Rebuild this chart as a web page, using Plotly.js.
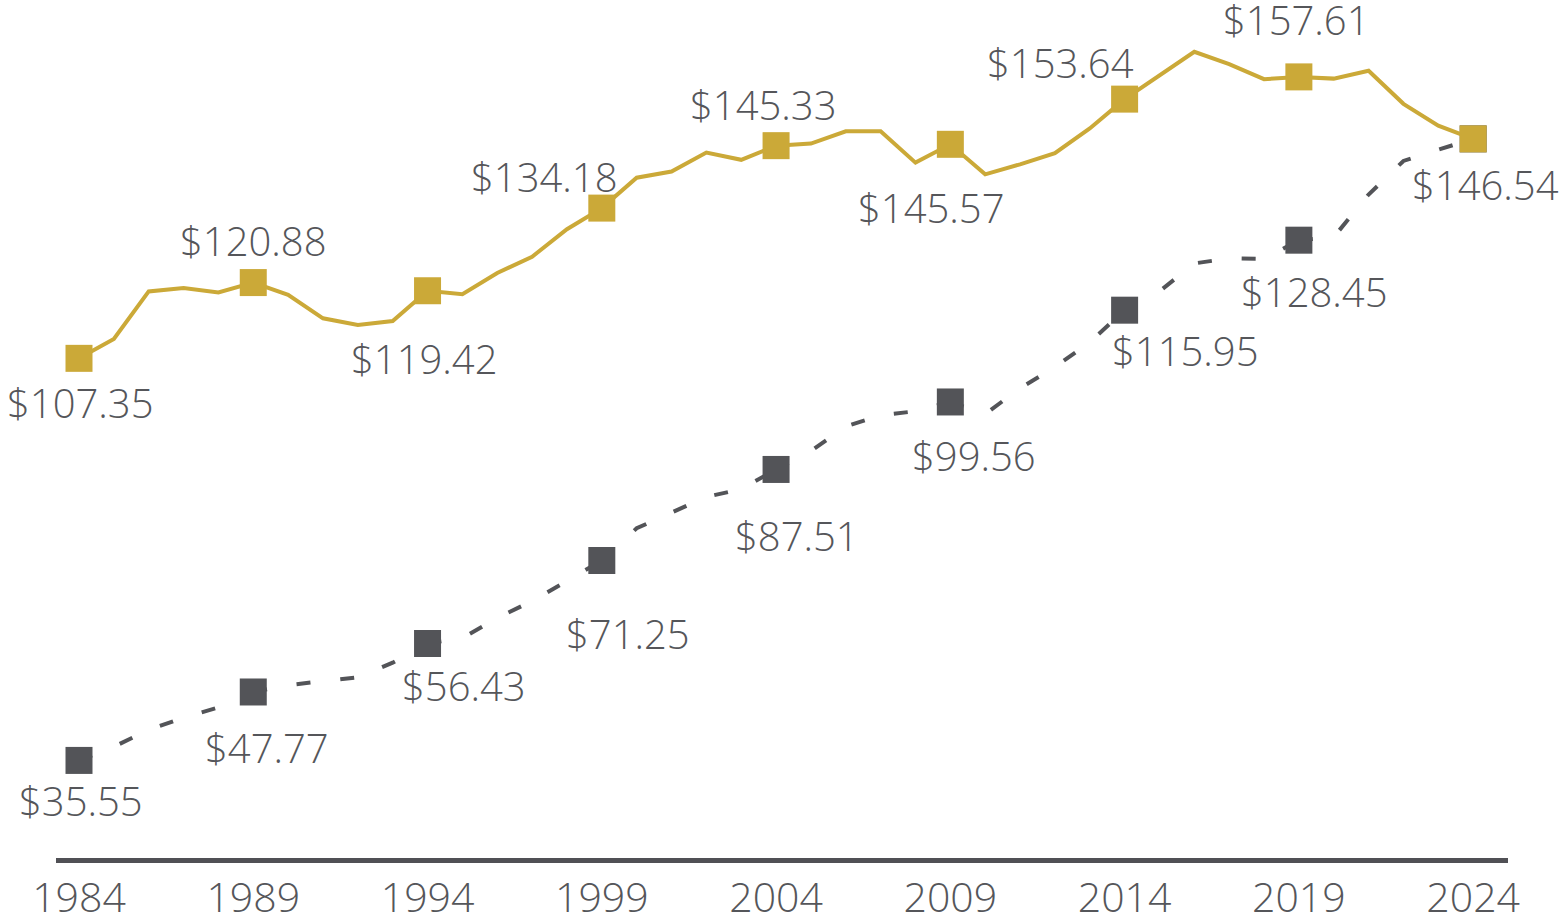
<!DOCTYPE html>
<html>
<head>
<meta charset="utf-8">
<script src="https://cdn.plot.ly/plotly-3.0.1.min.js"></script>
<style>
  html, body { margin: 0; padding: 0; background: #ffffff; }
  #chart { width: 1562px; height: 915px; }
</style>
</head>
<body>
<div id="chart"></div>
<script>
// ---- data ----
const years = [1984, 1985, 1986, 1987, 1988, 1989, 1990, 1991, 1992, 1993,
               1994, 1995, 1996, 1997, 1998, 1999, 2000, 2001, 2002, 2003,
               2004, 2005, 2006, 2007, 2008, 2009, 2010, 2011, 2012, 2013,
               2014, 2015, 2016, 2017, 2018, 2019, 2020, 2021, 2022, 2023, 2024];

// gold solid series
const goldSeries = [107.35, 110.8, 119.3, 119.9, 119.1, 120.88, 118.7, 114.5, 113.3, 114.0,
                    119.42, 118.8, 122.6, 125.5, 130.4, 134.18, 139.6, 140.7, 144.1, 142.8,
                    145.33, 145.7, 147.9, 147.9, 142.3, 145.57, 140.2, 142.0, 144.0, 148.4,
                    153.64, 157.8, 162.1, 159.9, 157.2, 157.61, 157.3, 158.7, 152.8, 148.9, 146.54];

// gray dashed series
const graySeries = [35.55, 38.0, 41.0, 43.2, 45.0, 47.77, 49.0, 49.7, 50.4, 53.0,
                    56.43, 57.4, 61.0, 64.0, 67.6, 71.25, 77.0, 79.8, 82.6, 84.0,
                    87.51, 90.8, 95.2, 97.2, 97.9, 99.56, 97.4, 102.0, 105.8, 110.2,
                    115.95, 119.3, 124.3, 125.2, 125.1, 128.45, 129.0, 136.6, 142.6, 144.6, 146.54];

const tickYears = [1984, 1989, 1994, 1999, 2004, 2009, 2014, 2019, 2024];
const tickLabels = ["1984", "1989", "1994", "1999", "2004", "2009", "2014", "2019", "2024"];

// ---- styles ----
const GOLD = "#CBA938";
const GRAY = "#535458";
const TEXT = "#55565A";
const FONT = "Open Sans, sans-serif";

// label placement offsets [xshift, yshift] in pixels (yshift > 0 is up) – layout only
const goldLabelShift = [[1, -44], [0, 42], [-3, -68], [-57, 32], [-13, 41], [-19, -63], [-64, 37], [-2, 57], [12, -46]];
const grayLabelShift = [[2, -40], [14, -56], [36, -42], [26, -73], [21, -66], [24, -54], [61, -40], [16, -51], null];

const idx = y => years.indexOf(y);
const fmt = v => "$" + v.toFixed(2);

const traces = [];

// gray dashed line, drawn segment by segment between markers
for (let i = 0; i < tickYears.length - 1; i++) {
  const a = idx(tickYears[i]), b = idx(tickYears[i + 1]);
  traces.push({
    x: years.slice(a, b + 1), y: graySeries.slice(a, b + 1),
    mode: "lines", line: { color: GRAY, width: 4, dash: "14px,30px" },
    hoverinfo: "skip", showlegend: false
  });
}
// gray markers
traces.push({
  x: tickYears, y: tickYears.map(t => graySeries[idx(t)]),
  mode: "markers", marker: { symbol: "square", size: 27, color: GRAY },
  hoverinfo: "skip", showlegend: false
});
// gold line
traces.push({
  x: years, y: goldSeries, mode: "lines",
  line: { color: GOLD, width: 4 }, hoverinfo: "skip", showlegend: false
});
// gold markers
traces.push({
  x: tickYears, y: tickYears.map(t => goldSeries[idx(t)]),
  mode: "markers", marker: { symbol: "square", size: 27, color: GOLD },
  hoverinfo: "skip", showlegend: false
});

const annotations = [];
tickYears.forEach((t, i) => {
  const g = goldSeries[idx(t)];
  annotations.push({
    x: t, y: g, xref: "x", yref: "y", text: fmt(g), showarrow: false,
    xanchor: "center", yanchor: "middle",
    xshift: goldLabelShift[i][0], yshift: goldLabelShift[i][1],
    font: { family: FONT, size: 40, color: TEXT, weight: 350 }
  });
  if (grayLabelShift[i]) {
    const s = graySeries[idx(t)];
    annotations.push({
      x: t, y: s, xref: "x", yref: "y", text: fmt(s), showarrow: false,
      xanchor: "center", yanchor: "middle",
      xshift: grayLabelShift[i][0], yshift: grayLabelShift[i][1],
      font: { family: FONT, size: 40, color: TEXT, weight: 350 }
    });
  }
});

const layout = {
  width: 1562, height: 915,
  margin: { l: 56, r: 54, t: 0, b: 57, pad: 0 },
  paper_bgcolor: "#ffffff", plot_bgcolor: "#ffffff",
  showlegend: false,
  font: { family: FONT, color: TEXT },
  xaxis: {
    range: [1983.34, 2025.0],
    tickmode: "array", tickvals: tickYears, ticktext: tickLabels,
    showgrid: false, zeroline: false,
    showline: true, linecolor: "#505055", linewidth: 5,
    ticks: "", tickfont: { family: FONT, size: 41, color: TEXT, weight: 350 }
  },
  yaxis: {
    range: [18.125, 171.34],
    visible: false, showgrid: false, zeroline: false
  },
  annotations: annotations
};

Plotly.newPlot("chart", traces, layout, { staticPlot: true, displayModeBar: false });
</script>
</body>
</html>
